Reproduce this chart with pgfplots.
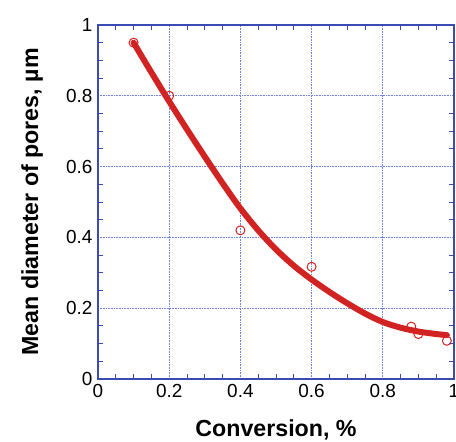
\documentclass[border=0pt]{standalone}
\usepackage{pgfplots}
\pgfplotsset{compat=1.18}
\usepackage{fontspec}
\setmainfont{Liberation Sans}
\definecolor{frameblue}{RGB}{60,75,180}
\definecolor{gridblue}{RGB}{110,130,220}
\definecolor{curvered}{RGB}{210,35,35}
\begin{document}
\begin{tikzpicture}
\begin{axis}[
  at={(98bp,63bp)}, anchor=south west,
  scale only axis, width=356bp, height=354bp,
  xmin=0, xmax=1, ymin=0, ymax=1,
  xtick={0,0.2,0.4,0.6,0.8,1}, ytick={0,0.2,0.4,0.6,0.8,1},
  xticklabels={0,0.2,0.4,0.6,0.8,1}, yticklabels={0,0.2,0.4,0.6,0.8,1},
  minor tick num=3,
  tick align=inside, major tick length=0pt, minor tick length=5bp,
  axis line style={frameblue, line width=1.2bp},
  every tick/.style={frameblue, line width=0.8bp},
  grid=major,
  major grid style={gridblue, dash pattern=on 1bp off 0.6bp, line width=0.9bp},
  tick label style={font=\fontsize{19}{19}\selectfont},
  xticklabel style={yshift=-2bp},
  yticklabel style={xshift=-2bp},
  /pgf/number format/assume math mode=true,
  xlabel={Conversion, \%},
  ylabel={Mean diameter of pores, µm},
  every axis x label/.style={at={(axis description cs:0.5,-0.163)}, anchor=base, font=\bfseries\fontsize{23.3}{23.3}\selectfont},
  every axis y label/.style={at={(axis description cs:-0.1685,0.5)}, rotate=90, anchor=base, font=\bfseries\fontsize{23.3}{23.3}\selectfont},
  clip=false,
]
\addplot[curvered, line width=6bp, smooth, line cap=round] coordinates {
(0.10,0.950) (0.15,0.866) (0.20,0.784) (0.25,0.705) (0.30,0.628)
(0.35,0.553) (0.40,0.482) (0.45,0.420) (0.50,0.366) (0.55,0.320)
(0.60,0.281) (0.65,0.246) (0.70,0.214) (0.75,0.185) (0.80,0.161)
(0.85,0.145) (0.90,0.134) (0.95,0.127) (0.98,0.124)
};
\addplot[only marks, mark=o, mark size=4.5bp, mark options={curvered, line width=1bp, fill=none}] coordinates {
(0.10,0.950) (0.20,0.800) (0.40,0.420) (0.60,0.317) (0.88,0.148) (0.90,0.127) (0.98,0.108)
};
\end{axis}
\pgfresetboundingbox
\path[use as bounding box] (0,0) rectangle (456bp,442bp);
\end{tikzpicture}
\end{document}
